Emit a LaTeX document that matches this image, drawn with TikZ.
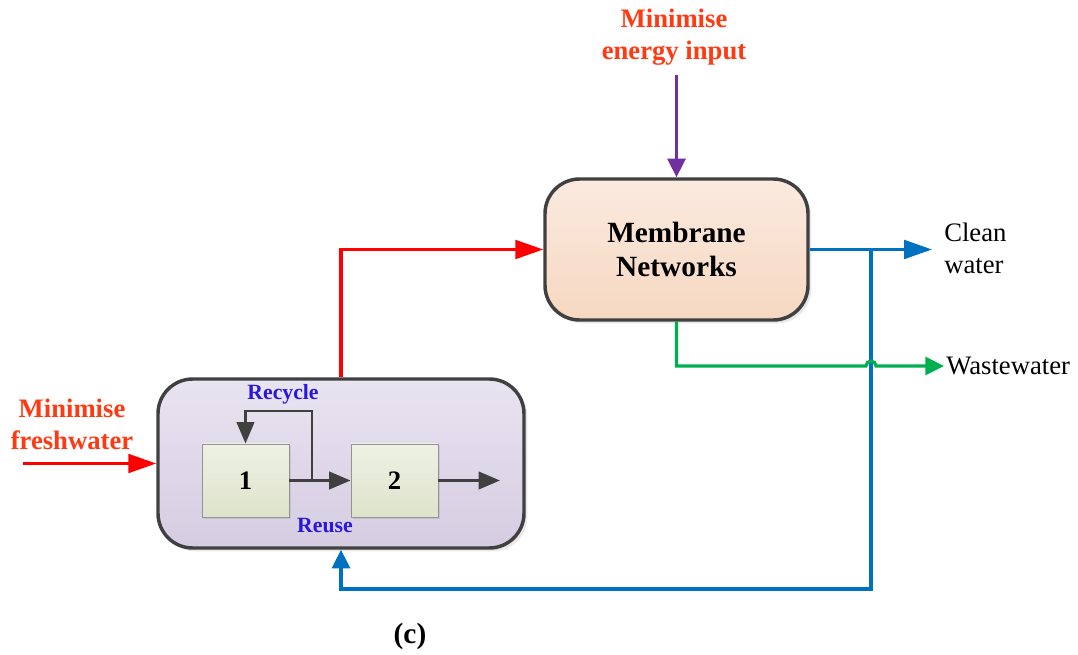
\documentclass[tikz,border=0pt]{standalone}
\usepackage{fontspec}
\setmainfont{Liberation Serif}
\usetikzlibrary{arrows.meta,shadows}
\definecolor{cred}{HTML}{FF0000}
\definecolor{tred}{HTML}{FF3A12}
\definecolor{tblue}{HTML}{2A17DD}
\definecolor{cpurple}{HTML}{7030A0}
\definecolor{cblue}{HTML}{0070C0}
\definecolor{cgreen}{HTML}{00B050}
\definecolor{dgray}{HTML}{404040}
\definecolor{memtop}{HTML}{FBEADF}
\definecolor{membot}{HTML}{F6D8C1}
\definecolor{prtop}{HTML}{E9E4F1}
\definecolor{prbot}{HTML}{D5CCE1}
\definecolor{uttop}{HTML}{EEF1E3}
\definecolor{utbot}{HTML}{DEE3CB}
\begin{document}
\begin{tikzpicture}[x=0.75pt,y=-0.75pt,
  bigbox/.style={draw=dgray,line width=2.6pt,rounded corners=26pt,
    drop shadow={opacity=0.18,shadow xshift=2.5pt,shadow yshift=-2.5pt}},
  unitbox/.style={draw=gray!85,line width=0.7pt,minimum width=65.25pt,minimum height=54.75pt,
    top color=uttop,bottom color=utbot,
    drop shadow={opacity=0.2,shadow xshift=1.5pt,shadow yshift=-1.5pt},
    font=\fontsize{20}{24}\selectfont\bfseries},
  flow/.style={line width=2.4pt,-{Triangle[length=14pt,width=13.5pt]}},
  longflow/.style={line width=2.4pt,-{Triangle[length=21pt,width=14pt]}},
  inner/.style={draw=dgray,line width=2.2pt,-{Triangle[length=16pt,width=13pt]}},
  goal/.style={text=tred,font=\fontsize{20}{24}\selectfont\bfseries,align=center,inner sep=0pt},
  lab/.style={text=tblue,font=\fontsize{16.3}{19}\selectfont\bfseries,inner sep=0pt},
  outlab/.style={font=\fontsize{20}{24}\selectfont,align=left,inner sep=0pt,anchor=west}
]
\useasboundingbox (0,0) rectangle (1078,655);

\node[bigbox,top color=memtop,bottom color=membot,minimum width=197.25pt,minimum height=105.75pt,
  align=center,font=\fontsize{22}{25.5}\selectfont\bfseries] (mem) at (676.5,249.5) {Membrane\\Networks};
\node[bigbox,top color=prtop,bottom color=prbot,minimum width=274.5pt,minimum height=126.75pt] (proc) at (341,463.5) {};
\node[unitbox] (b1) at (245.5,480.5) {1};
\node[unitbox] (b2) at (394.5,480.5) {2};

\node[goal] (fw) at (72,424) {Minimise\\freshwater};
\node[goal] (en) at (674,37) {Minimise\\energy input};
\node[lab] (rec) at (283,394) {Recycle};
\node[lab] (reu) at (325,526) {Reuse};
\node[outlab] (clean) at (944,248) {Clean\\water};
\node[outlab] (waste) at (946,366) {Wastewater};
\node[font=\fontsize{22}{26}\selectfont\bfseries,inner sep=0pt] (cap) at (410,636) {(c)};

\coordinate (fwstart) at (23,463.5);
\coordinate (enstart) at (676.5,75);
\coordinate (cleanend) at (932,249.5);
\coordinate (junc) at (871,249.5);
\coordinate (retcorner) at (871,589);
\coordinate (wasteend) at (944,366);
\coordinate (hopa) at (866,366);
\coordinate (rj) at (312,480.5);
\coordinate (rtop) at (312,411);
\coordinate (outend) at (500,480.5);

% inputs
\draw[longflow,cred] (fwstart) -- (proc.west);
\draw[flow,cpurple] (enstart) -- (mem.north);
\draw[longflow,cred] (proc.north) |- (mem.west);
% outputs
\draw[longflow,cblue] (mem.east) -- (cleanend);
\draw[flow,cblue] (junc) -- (retcorner) -| (proc.south);
\draw[flow,cgreen] (mem.south) |- (hopa) arc[start angle=180,end angle=0,radius=3.75pt] -- (wasteend);
% inner process
\draw[inner] (b1.east) -- (b2.west);
\draw[inner] (rj) -- (rtop) -| (b1.north);
\draw[inner] (b2.east) -- (outend);
\end{tikzpicture}
\end{document}
